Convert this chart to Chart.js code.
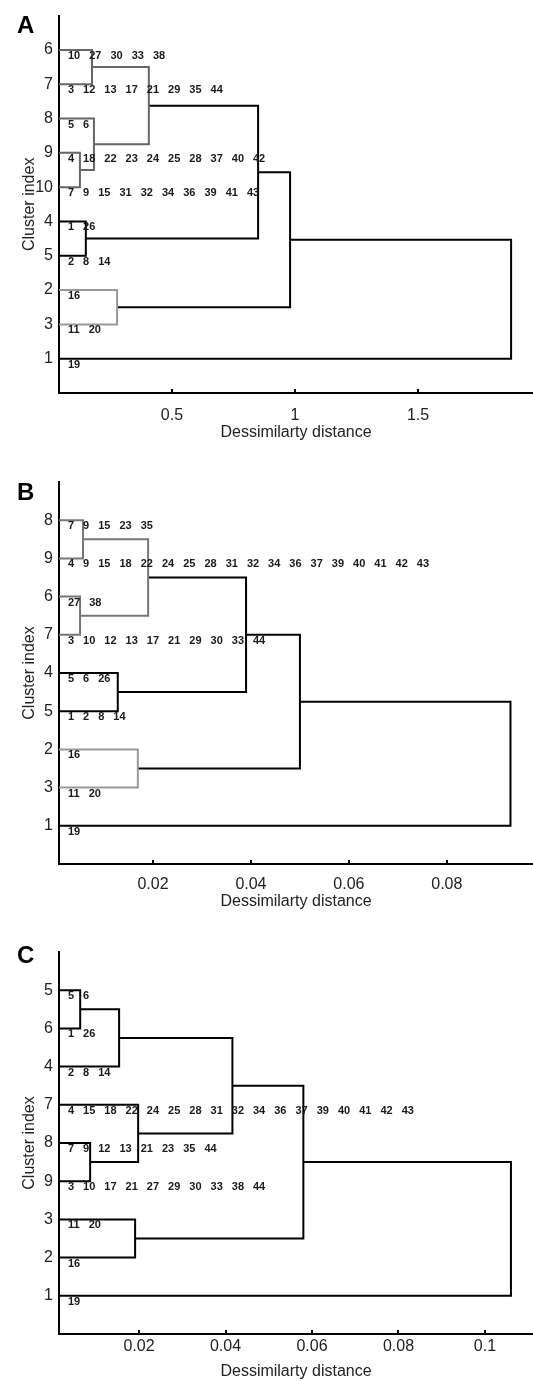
<!DOCTYPE html>
<html>
<head>
<meta charset="utf-8">
<title>Dendrograms</title>
<script src="https://cdn.jsdelivr.net/npm/chart.js@4.4.1/dist/chart.umd.min.js"></script>
<style>
    html, body { margin: 0; padding: 0; background: #fff; }
    body { width: 533px; height: 1381px; position: relative; overflow: hidden; }
    canvas { position: absolute; left: 0; display: block; }
</style>
</head>
<body>
<canvas id="chartA" width="533" height="445" style="top:0px"></canvas>
<canvas id="chartB" width="533" height="467" style="top:445px"></canvas>
<canvas id="chartC" width="533" height="469" style="top:912px"></canvas>
<script>
// Panel A - leaves listed top to bottom, links as [left node, right node, height]
// (leaves are the cluster indices, link k creates node N + k)
const leafLabelsA = ['6', '7', '8', '9', '10', '4', '5', '2', '3', '1'];
const leafMembersA = [
    '10 27 30 33 38',
    '3 12 13 17 21 29 35 44',
    '5 6',
    '4 18 22 23 24 25 28 37 40 42',
    '7 9 15 31 32 34 36 39 41 43',
    '1 26',
    '2 8 14',
    '16',
    '11 20',
    '19'
];
const linksA = [[6, 7, 0.175], [9, 10, 0.126], [8, 12, 0.183], [11, 13, 0.406], [4, 5, 0.15], [14, 15, 0.85], [2, 3, 0.277], [16, 17, 0.98], [18, 1, 1.878]];
const linkColorsA = ['#666', '#666', '#666', '#666', '#000', '#000', '#999', '#000', '#000'];
const xTicksA = [0.5, 1, 1.5];
const xRangeA = [0.041, 1.967];

// Panel B
const leafLabelsB = ['8', '9', '6', '7', '4', '5', '2', '3', '1'];
const leafMembersB = [
    '7 9 15 23 35',
    '4 9 15 18 22 24 25 28 31 32 34 36 37 39 40 41 42 43',
    '27 38',
    '3 10 12 13 17 21 29 30 33 44',
    '5 6 26',
    '1 2 8 14',
    '16',
    '11 20',
    '19'
];
const linksB = [[8, 9, 0.0057], [6, 7, 0.0051], [10, 11, 0.019], [4, 5, 0.0128], [12, 13, 0.039], [2, 3, 0.0169], [14, 15, 0.05], [16, 1, 0.093]];
const linkColorsB = ['#777', '#777', '#777', '#000', '#000', '#999', '#000', '#000'];
const xTicksB = [0.02, 0.04, 0.06, 0.08];
const xRangeB = [0.0008, 0.0976];

// Panel C
const leafLabelsC = ['5', '6', '4', '7', '8', '9', '3', '2', '1'];
const leafMembersC = [
    '5 6',
    '1 26',
    '2 8 14',
    '4 15 18 22 24 25 28 31 32 34 36 37 39 40 41 42 43',
    '7 9 12 13 21 23 35 44',
    '3 10 17 21 27 29 30 33 38 44',
    '11 20',
    '16',
    '19'
];
const linksC = [[5, 6, 0.0064], [10, 4, 0.0154], [8, 9, 0.0087], [7, 12, 0.0198], [11, 13, 0.0416], [3, 2, 0.0191], [14, 15, 0.058], [16, 1, 0.106]];
const linkColorsC = ['#000', '#000', '#000', '#000', '#000', '#000', '#000', '#000'];
const xTicksC = [0.02, 0.04, 0.06, 0.08, 0.1];
const xRangeC = [0.0015, 0.1111];

const FONT = 'Arial, "Liberation Sans", Helvetica, sans-serif';

// turn the link table into U-shaped line datasets
function buildDendrogram(leafLabels, links, colors, xMin) {
    const n = leafLabels.length;
    const pos = {};
    leafLabels.forEach((lab, i) => {
        pos[Number(lab)] = { x: xMin, y: n - i };
    });
    return links.map((row, k) => {
        const [a, b, h] = row;
        const pa = pos[a];
        const pb = pos[b];
        pos[n + k + 1] = { x: h, y: (pa.y + pb.y) / 2 };
        return {
            data: [
                { x: pa.x, y: pa.y },
                { x: h, y: pa.y },
                { x: h, y: pb.y },
                { x: pb.x, y: pb.y }
            ],
            showLine: true,
            borderColor: colors[k],
            borderWidth: 2,
            pointRadius: 0,
            fill: false,
            tension: 0
        };
    });
}

// leaf member numbers, inward x ticks and the panel letter
const dendroPlugin = {
    id: 'dendroExtras',
    afterDatasetsDraw(chart, args, opts) {
        const ctx = chart.ctx;
        const xs = chart.scales.x;
        const ys = chart.scales.y;
        const n = opts.labels.length;
        ctx.save();
        ctx.fillStyle = '#1a1a1a';
        ctx.font = 'bold 11px ' + FONT;
        ctx.textBaseline = 'middle';
        ctx.textAlign = 'left';
        opts.members.forEach((txt, i) => {
            let x = xs.left + 9;
            const y = ys.getPixelForValue(n - i) + 6;
            txt.split(' ').forEach(tok => {
                ctx.fillText(tok, x, y);
                x += ctx.measureText(tok).width + 9;
            });
        });

        // small tick marks pointing into the plot
        ctx.strokeStyle = '#000';
        ctx.lineWidth = 2;
        xs.ticks.forEach(t => {
            const px = Math.round(xs.getPixelForValue(t.value));
            ctx.beginPath();
            ctx.moveTo(px, xs.top);
            ctx.lineTo(px, xs.top - 4);
            ctx.stroke();
        });

        ctx.fillStyle = '#000';
        ctx.font = 'bold 24px ' + FONT;
        ctx.textBaseline = 'alphabetic';
        ctx.fillText(opts.letter, 17, opts.letterY);
        ctx.restore();
    }
};

function makePanel(canvasId, cfg) {
    const canvas = document.getElementById(canvasId);
    const n = cfg.labels.length;
    return new Chart(canvas, {
        type: 'scatter',
        data: {
            datasets: buildDendrogram(cfg.labels, cfg.links, cfg.colors, cfg.xRange[0])
        },
        options: {
            responsive: false,
            animation: false,
            layout: { padding: { top: cfg.plotTop, right: 0, left: 0, bottom: 0 } },
            plugins: {
                legend: { display: false },
                tooltip: { enabled: false },
                dendroExtras: {
                    labels: cfg.labels,
                    members: cfg.members,
                    letter: cfg.letter,
                    letterY: cfg.letterY
                }
            },
            scales: {
                x: {
                    type: 'linear',
                    min: cfg.xRange[0],
                    max: cfg.xRange[1],
                    afterBuildTicks: s => { s.ticks = cfg.xTicks.map(v => ({ value: v })); },
                    afterFit: s => { s.height = canvas.height - cfg.plotBottom; },
                    grid: { drawOnChartArea: false, drawTicks: false },
                    border: { color: '#000', width: 2 },
                    ticks: {
                        padding: cfg.xTickPad,
                        color: '#222',
                        autoSkip: false,
                        maxRotation: 0,
                        font: { family: FONT, size: 16 },
                        callback: v => String(v)
                    },
                    title: {
                        display: true,
                        text: 'Dessimilarty distance',
                        color: '#222',
                        font: { family: FONT, size: 16 },
                        padding: { top: 0, bottom: cfg.xTitlePad }
                    }
                },
                y: {
                    type: 'linear',
                    min: 0,
                    max: n + 1,
                    afterBuildTicks: s => { s.ticks = cfg.labels.map((_, i) => ({ value: n - i })); },
                    afterFit: s => { s.width = 59; },
                    grid: { drawOnChartArea: false, drawTicks: false },
                    border: { color: '#000', width: 2 },
                    ticks: {
                        padding: 6,
                        color: '#222',
                        autoSkip: false,
                        font: { family: FONT, size: 16 },
                        callback: v => cfg.labels[n - v]
                    },
                    title: {
                        display: true,
                        text: 'Cluster index',
                        color: '#222',
                        font: { family: FONT, size: 16 },
                        padding: { top: 20, bottom: 0 }
                    }
                }
            }
        },
        plugins: [dendroPlugin]
    });
}

makePanel('chartA', {
    labels: leafLabelsA, members: leafMembersA, links: linksA, colors: linkColorsA,
    xTicks: xTicksA, xRange: xRangeA,
    plotTop: 12, plotBottom: 393, xTickPad: 13, xTitlePad: 3,
    letter: 'A', letterY: 33
});
makePanel('chartB', {
    labels: leafLabelsB, members: leafMembersB, links: linksB, colors: linkColorsB,
    xTicks: xTicksB, xRange: xRangeB,
    plotTop: 37, plotBottom: 419, xTickPad: 11, xTitlePad: 1,
    letter: 'B', letterY: 55
});
makePanel('chartC', {
    labels: leafLabelsC, members: leafMembersC, links: linksC, colors: linkColorsC,
    xTicks: xTicksC, xRange: xRangeC,
    plotTop: 40, plotBottom: 422, xTickPad: 3, xTitlePad: 0,
    letter: 'C', letterY: 51
});
</script>
</body>
</html>
